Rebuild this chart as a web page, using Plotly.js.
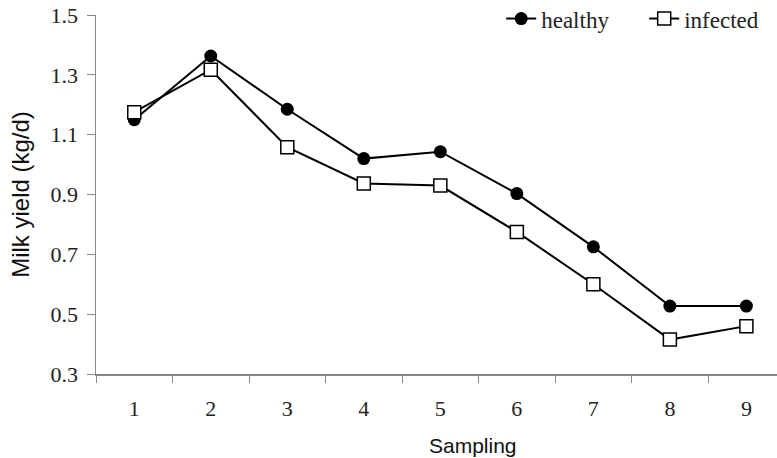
<!DOCTYPE html>
<html>
<head>
<meta charset="utf-8">
<script src="https://cdn.plot.ly/plotly-3.0.1.min.js"></script>
<style>html,body{margin:0;padding:0;background:#fff;}#chart{width:777px;height:458px;}</style>
</head>
<body>
<div id="chart"></div>
<script>
const samplings = ["1","2","3","4","5","6","7","8","9"];
const healthy = [1.15, 1.363, 1.185, 1.02, 1.043, 0.903, 0.725, 0.527, 0.527];
const infected = [1.175, 1.317, 1.058, 0.937, 0.93, 0.775, 0.6, 0.415, 0.46];
const yTicks = [0.3, 0.5, 0.7, 0.9, 1.1, 1.3, 1.5];

const traces = [
  {
    x: samplings, y: healthy, name: "healthy", type: "scatter", mode: "lines+markers",
    line: {color: "#000", width: 2},
    marker: {symbol: "circle", size: 13, color: "#000"}
  },
  {
    x: samplings, y: infected, name: "infected", type: "scatter", mode: "lines+markers",
    line: {color: "#000", width: 2},
    marker: {symbol: "square", size: 13, color: "#fff", line: {color: "#000", width: 1.5}}
  }
];

const layout = {
  width: 777, height: 458,
  margin: {l: 96, r: 0, t: 15, b: 84, autoexpand: false},
  paper_bgcolor: "#fff", plot_bgcolor: "#fff",
  showlegend: true,
  legend: {
    orientation: "h", x: 0.595, xanchor: "left", y: 0.99, yanchor: "middle",
    font: {family: "Liberation Serif, serif", size: 23, color: "#222"},
    bgcolor: "rgba(0,0,0,0)", entrywidth: 98, entrywidthmode: "pixels", tracegroupgap: 0
  },
  xaxis: {
    type: "category",
    range: [-0.5, 8.4],
    tickson: "boundaries",
    ticks: "outside", ticklen: 7, tickcolor: "#888", tickwidth: 1,
    showline: true, linecolor: "#888", linewidth: 1.5,
    showgrid: false, zeroline: false,
    ticklabelstandoff: 14,
    tickfont: {family: "Liberation Serif, serif", size: 22, color: "#222"}
  },
  yaxis: {
    range: [0.3, 1.5],
    tickvals: yTicks, ticktext: yTicks.map(v => v.toFixed(1)),
    ticks: "outside", ticklen: 8, tickcolor: "#888", tickwidth: 1,
    showline: true, linecolor: "#888", linewidth: 1.5,
    showgrid: false, zeroline: false,
    ticklabelstandoff: 4,
    tickfont: {family: "Liberation Serif, serif", size: 22, color: "#222"},
    title: {text: "Milk yield (kg/d)", font: {family: "Liberation Sans, Arial, sans-serif", size: 24, color: "#111"}, standoff: 14}
  },
  annotations: [
    {text: "Sampling", xref: "paper", yref: "paper", x: 0.554, y: -0.198, xanchor: "center", yanchor: "middle",
     showarrow: false, font: {family: "Liberation Sans, Arial, sans-serif", size: 21, color: "#111"}}
  ]
};

Plotly.newPlot("chart", traces, layout, {displayModeBar: false, staticPlot: true});
</script>
</body>
</html>
